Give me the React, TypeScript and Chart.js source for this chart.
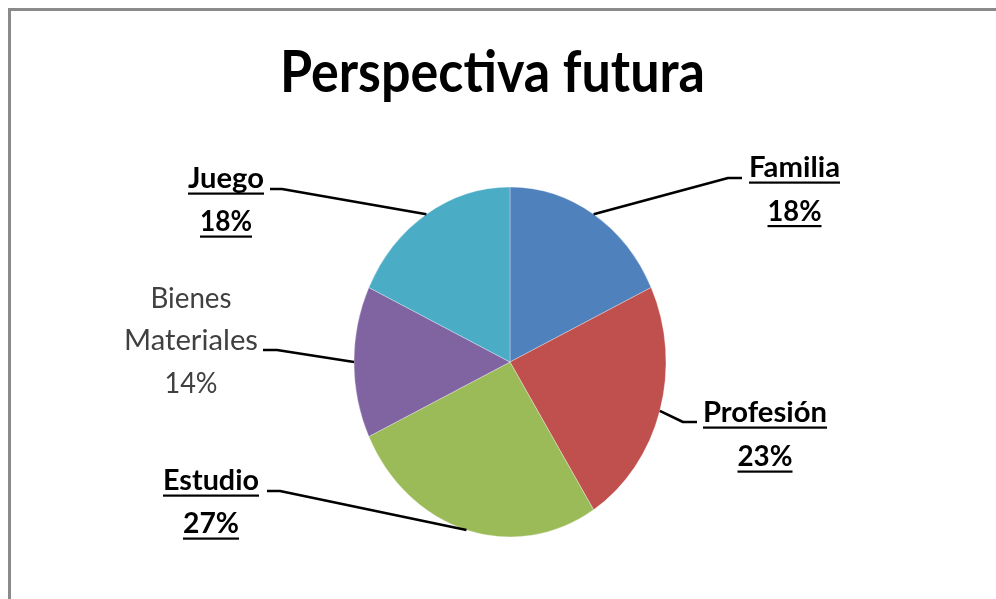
import React, { useEffect, useRef } from "react";
import { Chart, registerables } from "chart.js";

Chart.register(...registerables);

// ---------- data ----------
const TITLE = "Perspectiva futura";
const CATEGORIES = ["Familia", "Profesión", "Estudio", "Bienes Materiales", "Juego"];
const VALUES = [18, 23, 27, 14, 18];
const COLORS = ["#4F81BD", "#C0504D", "#9BBB59", "#8064A2", "#4BACC6"];

// ---------- layout ----------
const W = 996;
const H = 599;
const RADIUS = 156;
const Y_STRETCH = 175 / 156;
const FONT_FAMILY = "Lato, 'Open Sans', 'DejaVu Sans', sans-serif";

const TITLE_LAYOUT = { cx: 492.5, baseline: 92, width: 425, size: 57 };

const LABEL_LAYOUT = [
  { cx: 794.5, baselines: [177, 220.5], widths: [91, 54], stub: [[742, 178], [728, 178]], bold: true },
  { cx: 765, baselines: [422, 466], widths: [124, 55], stub: [[697, 422], [683, 422]], bold: true },
  { cx: 211, baselines: [490, 533], widths: [96, 56], stub: [[267, 491], [280, 491]], bold: true },
  { cx: 191, baselines: [308, 350, 393], widths: [81, 134, 53], stub: [[263, 350], [277, 350]], bold: false },
  { cx: 226, baselines: [188, 231], widths: [76, 52], stub: [[270, 189], [282, 189]], bold: true },
];
const LABEL_SIZE = 29;

function drawFitText(
  ctx: CanvasRenderingContext2D,
  text: string,
  cx: number,
  baseline: number,
  width: number,
  font: string,
  color: string,
  underline: boolean
) {
  ctx.save();
  ctx.font = font;
  const measured = ctx.measureText(text).width;
  const sx = width / measured;
  ctx.translate(cx, baseline);
  ctx.scale(sx, 1);
  ctx.fillStyle = color;
  ctx.textAlign = "center";
  ctx.textBaseline = "alphabetic";
  ctx.fillText(text, 0, 0);
  ctx.restore();
  if (underline) {
    ctx.save();
    ctx.fillStyle = color;
    ctx.fillRect(cx - width / 2, baseline + 4.5, width, 2.2);
    ctx.restore();
  }
}

const ellipsePlugin = {
  id: "ellipseStretch",
  beforeDatasetsDraw(chart: any) {
    const arc = chart.getDatasetMeta(0).data[0];
    const ctx = chart.ctx;
    ctx.save();
    ctx.translate(arc.x, arc.y);
    ctx.scale(1, Y_STRETCH);
    ctx.translate(-arc.x, -arc.y);
  },
  afterDatasetsDraw(chart: any) {
    chart.ctx.restore();
  },
};

const labelsPlugin = {
  id: "excelLabels",
  afterDraw(chart: any) {
    const ctx: CanvasRenderingContext2D = chart.ctx;
    // title
    drawFitText(
      ctx,
      TITLE,
      TITLE_LAYOUT.cx,
      TITLE_LAYOUT.baseline,
      TITLE_LAYOUT.width,
      `bold ${TITLE_LAYOUT.size}px ${FONT_FAMILY}`,
      "#000000",
      false
    );
    const meta = chart.getDatasetMeta(0);
    const total = VALUES.reduce((a, b) => a + b, 0);
    meta.data.forEach((arc: any, i: number) => {
      const lay = LABEL_LAYOUT[i];
      const mid = (arc.startAngle + arc.endAngle) / 2;
      const ax = arc.x + Math.cos(mid) * arc.outerRadius;
      const ay = arc.y + Math.sin(mid) * arc.outerRadius * Y_STRETCH;
      // leader line
      ctx.save();
      ctx.strokeStyle = "#000000";
      ctx.lineWidth = 2.6;
      ctx.lineJoin = "round";
      ctx.beginPath();
      ctx.moveTo(lay.stub[0][0], lay.stub[0][1]);
      ctx.lineTo(lay.stub[1][0], lay.stub[1][1]);
      ctx.lineTo(ax, ay);
      ctx.stroke();
      ctx.restore();
      // text
      const pct = Math.round((VALUES[i] / total) * 100) + "%";
      const lines = [...CATEGORIES[i].split(" "), pct];
      const font = `${lay.bold ? "bold" : "normal"} ${LABEL_SIZE}px ${FONT_FAMILY}`;
      const color = lay.bold ? "#000000" : "#404040";
      lines.forEach((t, j) => {
        drawFitText(ctx, t, lay.cx, lay.baselines[j], lay.widths[j], font, color, lay.bold);
      });
    });
  },
};

export default function App() {
  const ref = useRef<HTMLCanvasElement | null>(null);
  useEffect(() => {
    if (!ref.current) return;
    const chart = new Chart(ref.current, {
      type: "pie",
      data: {
        labels: CATEGORIES,
        datasets: [
          {
            data: VALUES,
            backgroundColor: COLORS,
            borderColor: "rgba(255,255,255,0.6)",
            borderWidth: 0.5,
            radius: RADIUS,
            clip: false,
          } as any,
        ],
      },
      options: {
        animation: false,
        responsive: false,
        devicePixelRatio: 1,
        layout: { padding: { left: 30, right: 6, top: 180, bottom: 55 } },
        plugins: {
          legend: { display: false },
          tooltip: { enabled: false },
          title: { display: false },
        },
        events: [],
      },
      plugins: [ellipsePlugin, labelsPlugin],
    });
    return () => chart.destroy();
  }, []);

  return (
    <div style={{ position: "absolute", left: 0, top: 0, width: W, height: H, background: "#ffffff", overflow: "hidden" }}>
      <canvas ref={ref} width={W} height={H} style={{ display: "block", width: W, height: H }} />
      <div
        style={{
          position: "absolute",
          left: 8,
          top: 8,
          width: W - 8,
          height: H - 8,
          boxSizing: "border-box",
          borderLeft: "3px solid #8a8a8a",
          borderTop: "3px solid #8a8a8a",
          pointerEvents: "none",
        }}
      />
    </div>
  );
}
